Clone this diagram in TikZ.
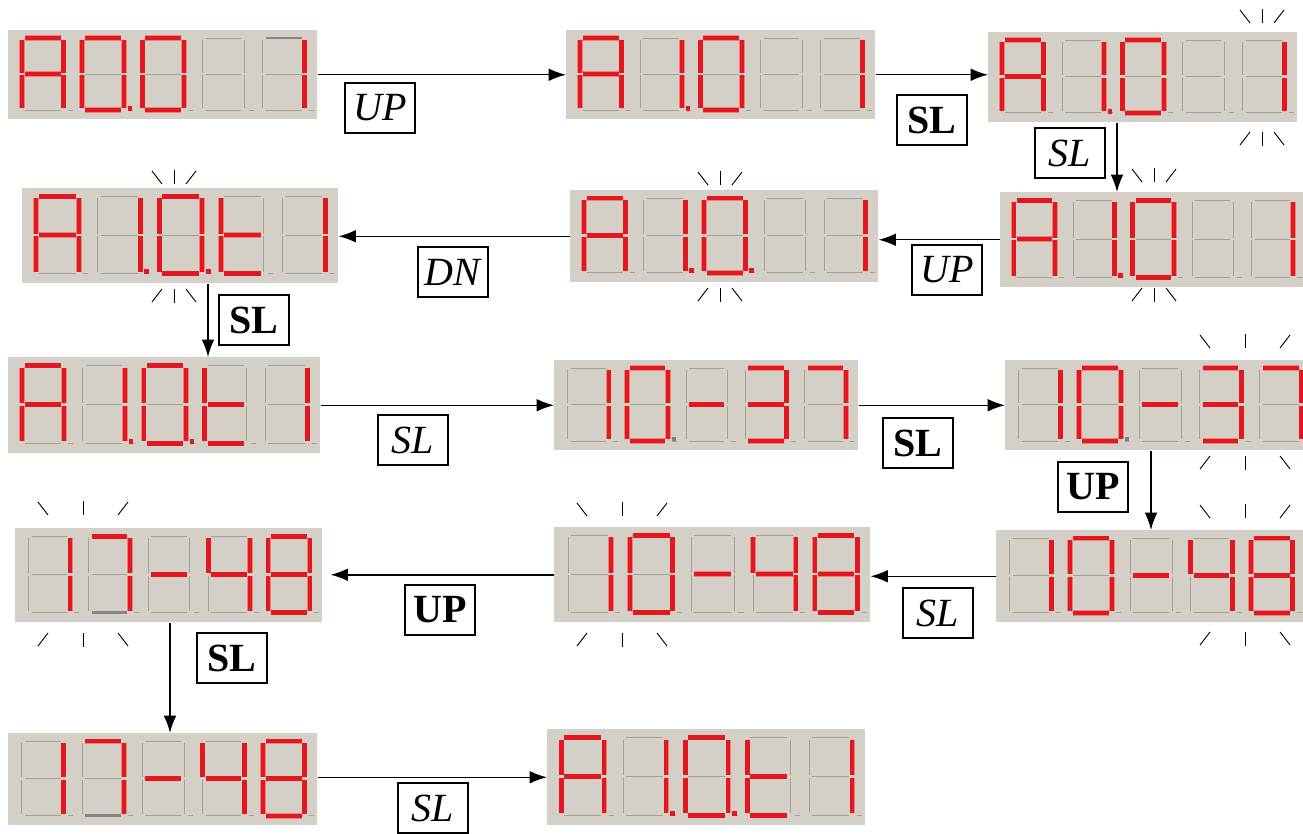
\documentclass[tikz,border=0pt]{standalone}
\usepackage{fontspec}
\setmainfont{Liberation Serif}
\usetikzlibrary{arrows.meta,calc}
\definecolor{dispbg}{RGB}{212,208,200}
\definecolor{segred}{RGB}{228,22,30}
\definecolor{seghalo}{RGB}{234,130,126}
\definecolor{offgray}{RGB}{163,160,153}
\definecolor{dimgray}{RGB}{135,133,130}
\definecolor{dpgray}{RGB}{120,128,150}
\tikzset{
  dispbox/.style={fill=dispbg, draw=none, inner sep=0pt, anchor=north west},
  off/.style={draw=offgray, line width=0.75pt},
  lit/.style={draw=segred, line width=3.3pt, preaction={draw=seghalo, line width=4.1pt}},
  litdp/.style={draw=segred, line width=3.8pt},
  dimseg/.style={draw=dimgray, line width=2.2pt},
  dimdp/.style={draw=dpgray, line width=2.6pt},
  arr/.style={draw=black, line width=1.1pt, -{Latex[length=13pt,width=9.5pt]}},
  lab/.style={draw=black, line width=1.6pt, minimum width=52pt, minimum height=37pt, inner sep=2pt, font=\fontsize{30}{32}\selectfont},
  blinkmark/.style={draw=black, line width=0.7pt},
}
\def\sgall{a,b,c,d,e,f,g,q}
\def\sgA{a,b,c,e,f,g}
\def\sgzero{a,b,c,d,e,f}
\def\sgone{b,c}
\def\sgseven{a,b,c}
\def\sgt{d,e,f,g}
\def\sgminus{g}
\def\sgthree{a,b,c,d,g}
\def\sgfour{b,c,f,g}
\def\sgeight{a,b,c,d,e,f,g}
\def\sgdp{p}
\newcommand\segs[3]{%
  \pgfmathsetmacro\sx{\DX+\DW*(0.045+0.195*#1)}%
  \pgfmathsetmacro\sy{\DY+\DH*0.09}%
  \pgfmathsetmacro\sw{\DW*0.135*0.75}%
  \pgfmathsetmacro\sh{\DH*0.81*0.75}%
  \begin{scope}[shift={(\sx,\sy)}, x=\sw pt, y=-\sh pt]
    \coordinate (sa1) at (0.07,0); \coordinate (sa2) at (0.93,0);
    \coordinate (sb1) at (1,0.025); \coordinate (sb2) at (1,0.485);
    \coordinate (sc1) at (1,0.515); \coordinate (sc2) at (1,0.975);
    \coordinate (sd1) at (0.07,1); \coordinate (sd2) at (0.93,1);
    \coordinate (se1) at (0,0.515); \coordinate (se2) at (0,0.975);
    \coordinate (sf1) at (0,0.025); \coordinate (sf2) at (0,0.485);
    \coordinate (sg1) at (0.07,0.5); \coordinate (sg2) at (0.93,0.5);
    \coordinate (sp1) at (1.09,0.975); \coordinate (sp2) at (1.2,0.975);
    \coordinate (sq1) at (1.1,1); \coordinate (sq2) at (1.22,1);
    \foreach \s in #2 {\draw[#3] (s\s1) -- (s\s2);}
  \end{scope}%
}
\newcommand\disp[5]{%
  \pgfmathsetmacro\tmpW{#4-(#2)}\pgfmathsetmacro\tmpH{#5-(#3)}%
  \pgfmathsetmacro\tmpWpt{\tmpW*0.75}\pgfmathsetmacro\tmpHpt{\tmpH*0.75}%
  \node[dispbox, minimum width=\tmpWpt pt, minimum height=\tmpHpt pt] (#1) at (#2,#3) {};
  \xdef\DX{#2}\xdef\DY{#3}\xdef\DW{\tmpW}\xdef\DH{\tmpH}%
  \foreach \i in {0,...,4}{\segs{\i}{\sgall}{off}}%
}
\newcommand\blink[4]{%
  \draw[blinkmark] ({#1-#4-10},#2) -- ({#1-#4},{#2+13});
  \draw[blinkmark] (#1,{#2-1}) -- (#1,{#2+13});
  \draw[blinkmark] ({#1+#4},{#2+13}) -- ({#1+#4+10},#2);
  \draw[blinkmark] ({#1-#4-10},{#3+13}) -- ({#1-#4},#3);
  \draw[blinkmark] (#1,#3) -- (#1,{#3+14});
  \draw[blinkmark] ({#1+#4},#3) -- ({#1+#4+10},{#3+13});
}
\begin{document}
\begin{tikzpicture}[x=0.75pt, y=-0.75pt]
\fill[white] (0,0) rectangle (1303,834);
\useasboundingbox (0,0) rectangle (1303,834);
% ---------- Row 1
\disp{disp1}{8}{30}{317}{119}
\segs{0}{\sgA}{lit}\segs{1}{\sgzero}{lit}\segs{1}{\sgdp}{litdp}\segs{2}{\sgzero}{lit}\segs{4}{\sgone}{lit}\segs{4}{{a}}{dimseg}
\disp{disp2}{566}{30}{875}{119}
\segs{0}{\sgA}{lit}\segs{1}{\sgone}{lit}\segs{1}{\sgdp}{litdp}\segs{2}{\sgzero}{lit}\segs{4}{\sgone}{lit}
\disp{disp3}{988}{32}{1297}{122}
\segs{0}{\sgA}{lit}\segs{1}{\sgone}{lit}\segs{1}{\sgdp}{litdp}\segs{2}{\sgzero}{lit}\segs{4}{\sgone}{lit}
\blink{1262}{10}{132}{12}
% ---------- Row 2
\disp{disp4}{22}{188}{338}{283}
\segs{0}{\sgA}{lit}\segs{1}{\sgone}{lit}\segs{1}{\sgdp}{litdp}\segs{2}{\sgzero}{lit}\segs{2}{\sgdp}{litdp}\segs{3}{\sgt}{lit}\segs{4}{\sgone}{lit}
\blink{174}{171}{289}{12}
\disp{disp5}{570}{190}{878}{282}
\segs{0}{\sgA}{lit}\segs{1}{\sgone}{lit}\segs{1}{\sgdp}{litdp}\segs{2}{\sgzero}{lit}\segs{2}{\sgdp}{litdp}\segs{4}{\sgone}{lit}
\blink{720}{172}{288}{12}
\disp{disp6}{1000}{192}{1305}{287}
\segs{0}{\sgA}{lit}\segs{1}{\sgone}{lit}\segs{1}{\sgdp}{litdp}\segs{2}{\sgzero}{lit}\segs{4}{\sgone}{lit}
\blink{1154}{169}{288}{12}
% ---------- Row 3
\disp{disp7}{8}{357}{320}{453}
\segs{0}{\sgA}{lit}\segs{1}{\sgone}{lit}\segs{1}{\sgdp}{litdp}\segs{2}{\sgzero}{lit}\segs{2}{\sgdp}{litdp}\segs{3}{\sgt}{lit}\segs{4}{\sgone}{lit}
\disp{disp8}{554}{360}{858}{450}
\segs{0}{\sgone}{lit}\segs{1}{\sgzero}{lit}\segs{1}{\sgdp}{dimdp}\segs{2}{\sgminus}{lit}\segs{3}{\sgthree}{lit}\segs{4}{\sgseven}{lit}
\disp{disp9}{1005}{360}{1314}{450}
\segs{0}{\sgone}{lit}\segs{1}{\sgzero}{lit}\segs{1}{\sgdp}{dimdp}\segs{2}{\sgminus}{lit}\segs{3}{\sgthree}{lit}\segs{4}{\sgseven}{lit}
\blink{1245}{335}{456}{35}
% ---------- Row 4
\disp{disp10}{15}{528}{322}{622}
\segs{0}{\sgone}{lit}\segs{1}{\sgseven}{lit}\segs{1}{{d}}{dimseg}\segs{2}{\sgminus}{lit}\segs{3}{\sgfour}{lit}\segs{4}{\sgeight}{lit}
\blink{83}{502}{633}{35}
\disp{disp11}{554}{527}{870}{622}
\segs{0}{\sgone}{lit}\segs{1}{\sgzero}{lit}\segs{2}{\sgminus}{lit}\segs{3}{\sgfour}{lit}\segs{4}{\sgeight}{lit}
\blink{622}{503}{633}{35}
\disp{disp12}{996}{530}{1305}{622}
\segs{0}{\sgone}{lit}\segs{1}{\sgzero}{lit}\segs{2}{\sgminus}{lit}\segs{3}{\sgfour}{lit}\segs{4}{\sgeight}{lit}
\blink{1245}{505}{632}{35}
% ---------- Row 5
\disp{disp13}{8}{733}{317}{825}
\segs{0}{\sgone}{lit}\segs{1}{\sgseven}{lit}\segs{1}{{d}}{dimseg}\segs{2}{\sgminus}{lit}\segs{3}{\sgfour}{lit}\segs{4}{\sgeight}{lit}
\disp{disp14}{547}{729}{865}{825}
\segs{0}{\sgA}{lit}\segs{1}{\sgone}{lit}\segs{1}{\sgdp}{litdp}\segs{2}{\sgzero}{lit}\segs{2}{\sgdp}{litdp}\segs{3}{\sgt}{lit}\segs{4}{\sgone}{lit}
% ---------- Labels
\node[lab] (l1) at (380,108) {\textit{UP}};
\node[lab] (l2) at (932,120) {\textbf{SL}};
\node[lab] (l3) at (1070,153) {\textit{SL}};
\node[lab] (l4) at (947,270) {\textit{UP}};
\node[lab] (l5) at (453,272) {\textit{DN}};
\node[lab] (l6) at (254,320) {\textbf{SL}};
\node[lab] (l7) at (413,440) {\textit{SL}};
\node[lab] (l8) at (918,443) {\textbf{SL}};
\node[lab] (l9) at (1093,487) {\textbf{UP}};
\node[lab] (l10) at (938,613) {\textit{SL}};
\node[lab] (l11) at (440,610) {\textbf{UP}};
\node[lab] (l12) at (232,658) {\textbf{SL}};
\node[lab] (l13) at (433,808) {\textit{SL}};
% ---------- Connectors
\draw[arr] (disp1.east) -- (disp2.west);
\draw[arr] (disp2.east) -- (disp2.east -| disp3.west);
\draw[arr] ($(disp3.south west)+(129,0)$) coordinate (t3) -- (t3 |- disp6.north);
\draw[arr] (disp6.west) -- (disp6.west -| disp5.east);
\draw[arr] (disp5.west) -- (disp5.west -| disp4.east);
\draw[arr] ($(disp4.south west)+(186,0)$) coordinate (t4) -- (t4 |- disp7.north);
\draw[arr] (disp7.east) -- (disp7.east -| disp8.west);
\draw[arr] (disp8.east) -- (disp8.east -| disp9.west);
\draw[arr] ($(disp9.south west)+(146,0)$) coordinate (t9) -- (t9 |- disp12.north);
\draw[arr] (disp12.west) -- (disp12.west -| disp11.east);
\draw[arr] (disp11.west) -- ($(disp11.west -| disp10.east)+(8,0)$);
\draw[arr] ($(disp10.south west)+(155,0)$) coordinate (t10) -- (t10 |- disp13.north);
\draw[arr] (disp14.west -| disp13.east) -- (disp14.west);
\end{tikzpicture}
\end{document}
